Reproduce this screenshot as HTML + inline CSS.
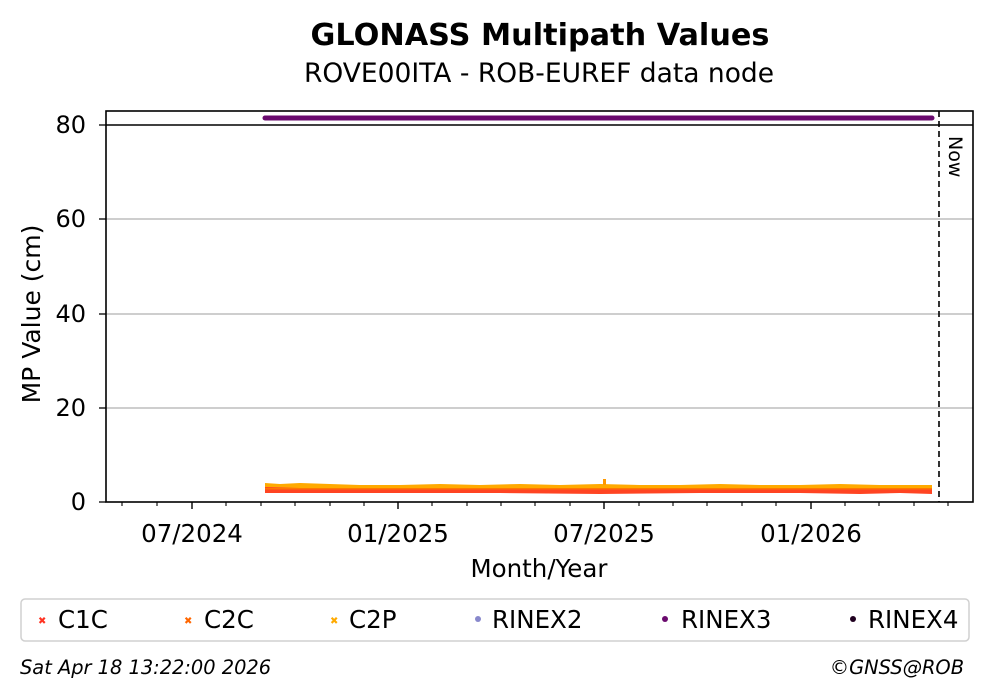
<!DOCTYPE html>
<html><head><meta charset="utf-8"><style>
html,body{margin:0;padding:0;background:#fff;}
svg{display:block;font-family:"DejaVu Sans","Liberation Sans",sans-serif;}
</style></head><body>
<svg width="992" height="699" viewBox="0 0 992 699" xmlns="http://www.w3.org/2000/svg">
<rect width="992" height="699" fill="#fff"/>
<text x="540" y="45" text-anchor="middle" font-size="30.3" font-weight="bold">GLONASS Multipath Values</text>
<text x="539" y="82" text-anchor="middle" font-size="26.5">ROVE00ITA - ROB-EUREF data node</text>
<g stroke="#b0b0b0" stroke-width="1.2">
<line x1="106" y1="219" x2="973" y2="219"/>
<line x1="106" y1="314" x2="973" y2="314"/>
<line x1="106" y1="408" x2="973" y2="408"/>
</g>
<line x1="106" y1="125" x2="973" y2="125" stroke="#000" stroke-width="1.6"/>
<line x1="265" y1="118" x2="932" y2="118" stroke="#6a0a6e" stroke-width="5" stroke-linecap="round"/>
<polygon points="265,483 280,484 300,483 330,484 360,485 400,485 440,484 480,485 520,484 560,485 600,484 640,485 680,485 720,484 760,485 800,485 840,484 880,485 932,485 932,490 265,490" fill="#ffaa00"/>
<polygon points="265,487 300,488 350,488 400,489 500,488 600,489 700,488 800,489 932,488 932,494 900,493 860,494 800,493 700,493 600,494 500,493 400,493 300,493 265,493" fill="#ff4422"/>
<rect x="265" y="488" width="667" height="1.5" fill="#ff7700"/>
<rect x="603" y="479" width="3" height="6" fill="#ff9900"/>
<line x1="939" y1="111" x2="939" y2="502" stroke="#000" stroke-width="1.6" stroke-dasharray="6 4"/>
<text transform="translate(949,136) rotate(90)" font-size="19">Now</text>
<rect x="106" y="111" width="867" height="391" fill="none" stroke="#000" stroke-width="1.6"/>
<g stroke="#000" stroke-width="1.3">
<line x1="99" y1="502" x2="106" y2="502"/><line x1="99" y1="408" x2="106" y2="408"/>
<line x1="99" y1="314" x2="106" y2="314"/><line x1="99" y1="219" x2="106" y2="219"/>
<line x1="99" y1="125" x2="106" y2="125"/>
</g>
<g font-size="24" text-anchor="end">
<text x="86" y="510">0</text><text x="86" y="416">20</text><text x="86" y="322">40</text>
<text x="86" y="227">60</text><text x="86" y="133">80</text>
</g>
<text transform="translate(40,314) rotate(-90)" text-anchor="middle" font-size="25">MP Value (cm)</text>
<g stroke="#000" stroke-width="1.1">
<line x1="122" y1="502" x2="122" y2="506"/><line x1="157" y1="502" x2="157" y2="506"/>
<line x1="226" y1="502" x2="226" y2="506"/><line x1="261" y1="502" x2="261" y2="506"/>
<line x1="295" y1="502" x2="295" y2="506"/><line x1="330" y1="502" x2="330" y2="506"/>
<line x1="364" y1="502" x2="364" y2="506"/>
<line x1="432" y1="502" x2="432" y2="506"/><line x1="467" y1="502" x2="467" y2="506"/>
<line x1="501" y1="502" x2="501" y2="506"/><line x1="535" y1="502" x2="535" y2="506"/>
<line x1="570" y1="502" x2="570" y2="506"/>
<line x1="639" y1="502" x2="639" y2="506"/><line x1="673" y1="502" x2="673" y2="506"/>
<line x1="707" y1="502" x2="707" y2="506"/><line x1="742" y1="502" x2="742" y2="506"/>
<line x1="776" y1="502" x2="776" y2="506"/>
<line x1="845" y1="502" x2="845" y2="506"/><line x1="879" y1="502" x2="879" y2="506"/>
<line x1="914" y1="502" x2="914" y2="506"/><line x1="948" y1="502" x2="948" y2="506"/>
</g>
<g stroke="#000" stroke-width="1.4">
<line x1="192" y1="502" x2="192" y2="509"/><line x1="398" y1="502" x2="398" y2="509"/>
<line x1="604" y1="502" x2="604" y2="509"/><line x1="811" y1="502" x2="811" y2="509"/>
</g>
<g font-size="24.5" text-anchor="middle">
<text x="192" y="542">07/2024</text><text x="398" y="542">01/2025</text>
<text x="604" y="542">07/2025</text><text x="811" y="542">01/2026</text>
</g>
<text x="539" y="577" text-anchor="middle" font-size="24.5">Month/Year</text>
<rect x="21" y="599" width="948" height="42" rx="4" fill="#fff" stroke="#d0d0d0" stroke-width="1.5"/>
<g font-size="24.5">
<text x="38" y="624" fill="#ff3322" font-size="10">✖</text><text x="58" y="628">C1C</text>
<text x="184" y="624" fill="#ff6600" font-size="10">✖</text><text x="204" y="628">C2C</text>
<text x="330" y="624" fill="#ffaa00" font-size="10">✖</text><text x="349" y="628">C2P</text>
<circle cx="478" cy="619" r="3" fill="#8888cc"/><text x="492" y="628">RINEX2</text>
<circle cx="665" cy="619" r="3" fill="#6a0a6e"/><text x="681" y="628">RINEX3</text>
<circle cx="853" cy="619" r="3" fill="#200020"/><text x="868" y="628">RINEX4</text>
</g>
<text x="20" y="674" font-size="19.4" font-style="italic">Sat Apr 18 13:22:00 2026</text>
<text x="964" y="674" font-size="19.4" font-style="italic" text-anchor="end">©GNSS@ROB</text>
</svg>
</body></html>
